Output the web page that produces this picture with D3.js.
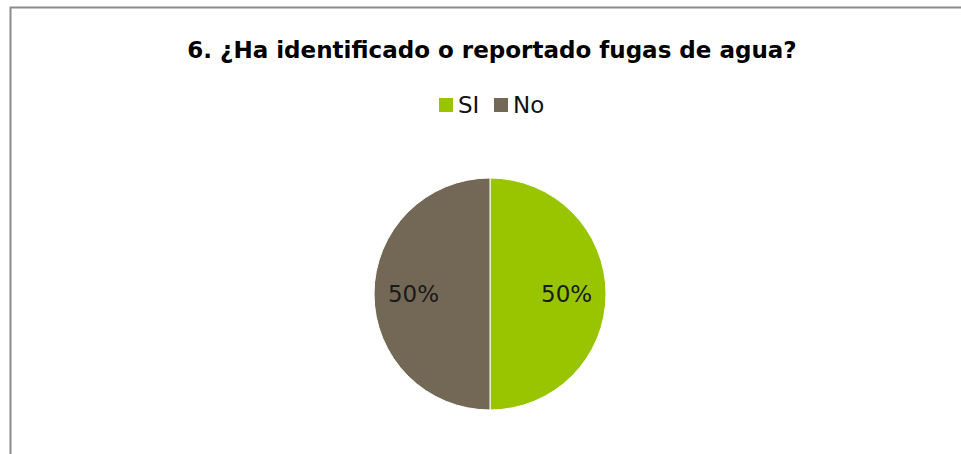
<!DOCTYPE html>
<html><head><meta charset="utf-8">
<script src="https://cdn.jsdelivr.net/npm/d3@7"></script>
<style>body{margin:0;background:#fff;}svg{display:block;}</style>
</head><body>
<script>
const title = "6. ¿Ha identificado o reportado fugas de agua?";
const categories = ["SI", "No"];
const values = [50, 50];
const colors = ["#99C400", "#736855"];

const W = 961, H = 454;
const svg = d3.select("body").append("svg").attr("width", W).attr("height", H);
const font = "'DejaVu Sans', 'Open Sans', sans-serif";

svg.append("rect").attr("x", 10.5).attr("y", 7.5).attr("width", 1000).attr("height", 500)
  .attr("fill", "#fff").attr("stroke", "#8c8c8c").attr("stroke-width", 2);

// title, fitted to its width in the reference
const t = svg.append("text").attr("x", 492).attr("y", 58).attr("text-anchor", "middle")
  .attr("font-family", font).attr("font-weight", "bold").attr("font-size", 22).attr("fill", "#000").text(title);
const tw = t.node().getComputedTextLength();
t.attr("font-size", 22 * 610 / tw);

// legend
const legX = [439, 494];
const leg = svg.append("g");
categories.forEach((c, i) => {
  leg.append("rect").attr("x", legX[i]).attr("y", 98).attr("width", 14).attr("height", 14).attr("fill", colors[i]);
  leg.append("text").attr("x", legX[i] + 19).attr("y", 113).attr("font-family", font)
    .attr("font-size", 23).attr("fill", "#111").text(c);
});

// pie
const cx = 490, cy = 294, r = 116;
const pie = d3.pie().sort(null).value(d => d)(values);
const arc = d3.arc().innerRadius(0).outerRadius(r);
const labelArc = d3.arc().innerRadius(r * 0.66).outerRadius(r * 0.66);
const g = svg.append("g").attr("transform", `translate(${cx},${cy})`);
g.selectAll("path").data(pie).join("path").attr("d", arc)
  .attr("fill", (d, i) => colors[i]).attr("stroke", "#fff").attr("stroke-width", 1);
const total = d3.sum(values);
g.selectAll("text").data(pie).join("text")
  .attr("transform", d => `translate(${labelArc.centroid(d)})`)
  .attr("text-anchor", "middle").attr("dy", "0.35em")
  .attr("font-family", font).attr("font-size", 23).attr("fill", "#1a1a1a")
  .text(d => Math.round(d.value / total * 100) + "%");
</script>
</body></html>
